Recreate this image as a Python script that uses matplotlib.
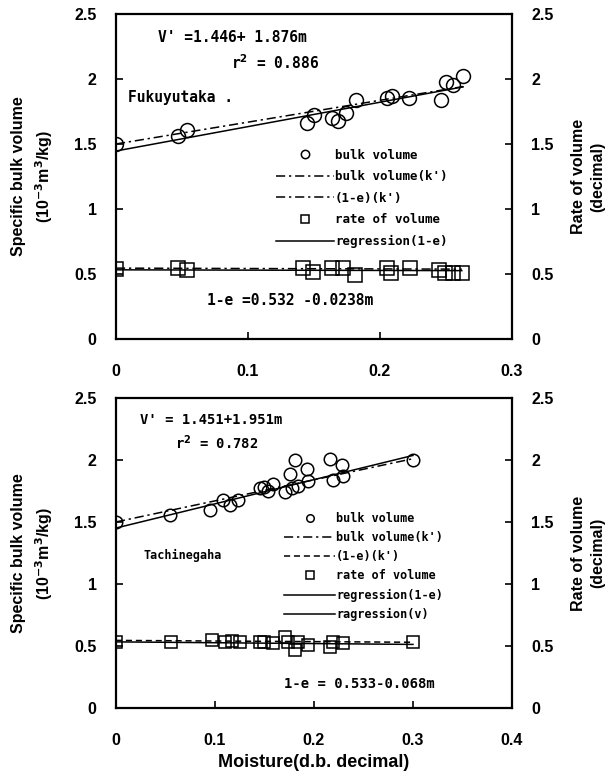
import numpy as np
import matplotlib.pyplot as plt
from matplotlib.ticker import FuncFormatter

# Fukuyutaka: specific bulk volume (10^-3 m^3/kg) and rate of volume vs moisture
fk_m = [0, 0.047, 0.054, 0.145, 0.150, 0.164, 0.168, 0.174, 0.182, 0.205,
        0.209, 0.222, 0.246, 0.250, 0.255, 0.263]
fk_v = [1.50, 1.56, 1.61, 1.66, 1.72, 1.70, 1.68, 1.74, 1.84, 1.85,
        1.87, 1.85, 1.84, 1.98, 1.95, 2.02]
fk_rm = [0, 0.047, 0.054, 0.142, 0.149, 0.164, 0.172, 0.181, 0.205, 0.208,
         0.223, 0.245, 0.249, 0.255, 0.262]
fk_r = [0.54, 0.545, 0.53, 0.545, 0.515, 0.545, 0.545, 0.49, 0.545, 0.51,
        0.545, 0.53, 0.51, 0.51, 0.51]

# Tachinagaha
ta_m = [0, 0.055, 0.095, 0.108, 0.115, 0.123, 0.145, 0.150, 0.154, 0.159,
        0.171, 0.176, 0.181, 0.178, 0.184, 0.193, 0.194, 0.216, 0.219,
        0.228, 0.229, 0.300]
ta_v = [1.50, 1.56, 1.60, 1.68, 1.64, 1.68, 1.77, 1.78, 1.75, 1.81,
        1.74, 1.89, 2.00, 1.77, 1.79, 1.93, 1.83, 2.01, 1.84, 1.96,
        1.87, 2.00]
ta_rm = [0, 0.056, 0.097, 0.110, 0.117, 0.125, 0.145, 0.150, 0.159, 0.171,
         0.174, 0.181, 0.184, 0.194, 0.216, 0.219, 0.229, 0.300]
ta_r = [0.53, 0.53, 0.55, 0.53, 0.54, 0.53, 0.53, 0.53, 0.52, 0.57,
        0.53, 0.47, 0.53, 0.51, 0.49, 0.53, 0.52, 0.53]

# regression coefficients (intercept, slope)
fk_reg_v = (1.446, 1.876)
fk_reg_r = (0.532, -0.0238)
fk_k_v = (1.50, 1.68)
fk_k_r = (0.545, -0.03)
ta_reg_v = (1.451, 1.951)
ta_reg_r = (0.533, -0.068)
ta_k_v = (1.50, 1.70)
ta_k_r = (0.545, -0.05)

mono = 'DejaVu Sans Mono'
sans = 'Liberation Sans'
plt.rcParams['font.family'] = sans
plt.rcParams['font.weight'] = 'bold'
plt.rcParams['axes.labelweight'] = 'bold'

fmt = FuncFormatter(lambda v, p: '%g' % v)
dashdot = (0, (6, 2.5, 1.5, 2.5))
dashed = (0, (4, 2.5))
yticks = [0, 0.5, 1, 1.5, 2, 2.5]


def line(ax, coef, xmax, **kw):
    xs = np.array([0, xmax])
    return ax.plot(xs, coef[0] + coef[1] * xs, color='black', lw=1.1, **kw)[0]


def panel(ax, xmax, xticks):
    ax.set_xlim(0, xmax)
    ax.set_ylim(0, 2.5)
    ax.set_xticks(xticks)
    ax.set_yticks(yticks)
    ax.xaxis.set_major_formatter(fmt)
    ax.yaxis.set_major_formatter(fmt)
    ax.tick_params(direction='in', length=5, width=1.2, labelsize=11.5,
                   pad=14)
    ax.tick_params(axis='x', pad=18)
    for s in ax.spines.values():
        s.set_linewidth(1.6)
    ax.set_ylabel('Specific bulk volume\n(10$^{-3}$m$^3$/kg)', fontsize=11.5,
                  labelpad=14, linespacing=1.4)
    # right-hand scale for the rate of volume
    ax2 = ax.twinx()
    ax2.set_ylim(0, 2.5)
    ax2.set_yticks(yticks)
    ax2.yaxis.set_major_formatter(fmt)
    ax2.tick_params(direction='in', length=5, width=1.2, labelsize=11.5,
                    pad=14)
    for s in ax2.spines.values():
        s.set_visible(False)
    ax2.set_ylabel('Rate of volume\n(decimal)', fontsize=11.5, labelpad=12,
                   linespacing=1.4)
    return ax2


fig = plt.figure(figsize=(6.12, 7.78), dpi=100)
ax1 = fig.add_axes([0.1895, 0.5643, 0.647, 0.4177])
ax3 = fig.add_axes([0.1895, 0.0900, 0.647, 0.3985])

mk = dict(color='black', mfc='none', mew=1.1, ls='none')

# upper panel: Fukuyutaka
panel(ax1, 0.3, [0, 0.1, 0.2, 0.3])
h1 = ax1.plot(fk_m, fk_v, marker='o', ms=10, label='bulk volume', **mk)[0]
h2 = line(ax1, fk_k_v, max(fk_m), ls=dashdot, label="bulk volume(k')")
line(ax1, fk_reg_v, max(fk_m))
h3 = line(ax1, fk_k_r, max(fk_rm), ls=dashdot, label="(1-e)(k')")
h4 = ax1.plot(fk_rm, fk_r, marker='s', ms=9.5, label='rate of volume', **mk)[0]
h5 = line(ax1, fk_reg_r, max(fk_rm), label='regression(1-e)')
ax1.legend(handles=[h1, h2, h3, h4, h5], loc='upper left',
           bbox_to_anchor=(0.405, 0.585), frameon=False, borderpad=0,
           borderaxespad=0, handlelength=4.6, handletextpad=0.1,
           labelspacing=0.68, markerscale=0.6,
           prop={'family': mono, 'weight': 'bold', 'size': 9})
ax1.text(0.105, 0.915, "V' =1.446+ 1.876m", transform=ax1.transAxes,
         family=mono, fontsize=10.5, fontweight='bold')
ax1.text(0.29, 0.83, "r$^2$ = 0.886", transform=ax1.transAxes,
         family=mono, fontsize=10.5, fontweight='bold')
ax1.text(0.03, 0.73, "Fukuyutaka .", transform=ax1.transAxes,
         family=mono, fontsize=10.5, fontweight='bold')
ax1.text(0.23, 0.105, "1-e =0.532 -0.0238m", transform=ax1.transAxes,
         family=mono, fontsize=10.5, fontweight='bold')

# lower panel: Tachinagaha
panel(ax3, 0.4, [0, 0.1, 0.2, 0.3, 0.4])
g1 = ax3.plot(ta_m, ta_v, marker='o', ms=9, label='bulk volume', **mk)[0]
g2 = line(ax3, ta_k_v, max(ta_m), ls=dashdot, label="bulk volume(k')")
g6 = line(ax3, ta_reg_v, max(ta_m), label='ragression(v)')
g3 = line(ax3, ta_k_r, max(ta_rm), ls=dashed, label="(1-e)(k')")
g4 = ax3.plot(ta_rm, ta_r, marker='s', ms=9, label='rate of volume', **mk)[0]
g5 = line(ax3, ta_reg_r, max(ta_rm), label='regression(1-e)')
ax3.legend(handles=[g1, g2, g3, g4, g5, g6], loc='upper left',
           bbox_to_anchor=(0.425, 0.632), frameon=False, borderpad=0,
           borderaxespad=0, handlelength=4.3, handletextpad=0.1,
           labelspacing=0.52, markerscale=0.6,
           prop={'family': mono, 'weight': 'bold', 'size': 8.5})
ax3.text(0.06, 0.915, "V' = 1.451+1.951m", transform=ax3.transAxes,
         family=mono, fontsize=10, fontweight='bold')
ax3.text(0.15, 0.835, "r$^2$ = 0.782", transform=ax3.transAxes,
         family=mono, fontsize=10, fontweight='bold')
ax3.text(0.07, 0.48, "Tachinegaha", transform=ax3.transAxes,
         family=mono, fontsize=8.5, fontweight='bold')
ax3.text(0.425, 0.065, "1-e = 0.533-0.068m", transform=ax3.transAxes,
         family=mono, fontsize=10, fontweight='bold')
ax3.set_xlabel('Moisture(d.b. decimal)', fontsize=13, labelpad=4)

fig.savefig('out.png', dpi=100)
